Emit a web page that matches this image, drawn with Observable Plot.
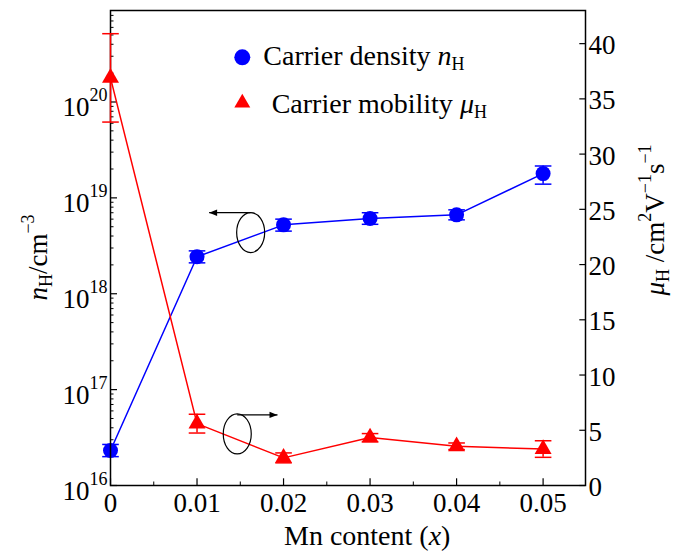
<!DOCTYPE html>
<html><head><meta charset="utf-8">
<script src="https://cdn.jsdelivr.net/npm/d3@7"></script>
<script src="https://cdn.jsdelivr.net/npm/@observablehq/plot@0.6"></script>
<style>
html,body{margin:0;padding:0;background:#fff;}
#chart{position:relative;width:678px;height:552px;}
#chart svg{position:absolute;left:0;top:0;}
</style></head><body><div id="chart"></div>
<script>
// ---- data ----
const mnContent = [0, 0.01, 0.02, 0.03, 0.04, 0.05];
const carrierDensity = [2.32e16, 2.43e18, 5.23e18, 6.09e18, 6.65e18, 1.79e19];
const densityLow  = [2.0e16, 2.1e18, 4.5e18, 5.3e18, 5.9e18, 1.39e19];
const densityHigh = [2.68e16, 2.8e18, 6.0e18, 7.0e18, 7.5e18, 2.15e19];
const carrierMobility = [36.9, 5.6, 2.5, 4.35, 3.55, 3.3];
const mobilityLow  = [32.9, 4.75, 2.05, 3.95, 3.25, 2.55];
const mobilityHigh = [40.9, 6.45, 2.95, 4.7, 3.85, 4.05];

const xTicks = [0, 0.01, 0.02, 0.03, 0.04, 0.05];
const xTickLabels = ["0", "0.01", "0.02", "0.03", "0.04", "0.05"];
const xMinorTicks = [0.005, 0.015, 0.025, 0.035, 0.045];
const densityTicks = [1e16, 1e17, 1e18, 1e19, 1e20];
const densityTickExponents = ["16", "17", "18", "19", "20"];
const mobilityTicks = [0, 5, 10, 15, 20, 25, 30, 35, 40];
const mobilityTickLabels = ["0", "5", "10", "15", "20", "25", "30", "35", "40"];

// annotation anchors (data units)
const densityNote = [{x: 0.0162, y: 4.35e18, arrowY: 7.0e18, arrowTo: 0.0114}];
const mobilityNote = [{x: 0.01465, y: 4.67, arrowY: 6.39, arrowTo: 0.0193}];

// ---- layout ----
const W = 678, H = 552, mt = 10, mb = 67, ml = 110, mr = 93;
const frameW = W - ml - mr, frameH = H - mt - mb;
const xDomain = [0, 0.0549];
const FONT = "'Liberation Serif', 'Times New Roman', serif";

const densityRows = mnContent.map((x, i) => ({x, y: carrierDensity[i], lo: densityLow[i], hi: densityHigh[i]}));
const mobilityRows = mnContent.map((x, i) => ({x, y: carrierMobility[i], lo: mobilityLow[i], hi: mobilityHigh[i]}));
const minorDensity = [];
for (let d = 16; d <= 20; d++) for (let k = 2; k <= 9; k++) { const v = k * Math.pow(10, d); if (v <= 9e20) minorDensity.push(v); }

// custom symbols
const hCap = {draw(ctx, size) { const r = Math.sqrt(size / Math.PI); ctx.moveTo(-r, 0); ctx.lineTo(r, 0); }};
const ellipseSym = {draw(ctx, size) {
  const r = Math.sqrt(size / Math.PI), rx = r * 0.7, ry = r, k = 0.5523;
  ctx.moveTo(rx, 0);
  ctx.bezierCurveTo(rx, k * ry, k * rx, ry, 0, ry);
  ctx.bezierCurveTo(-k * rx, ry, -rx, k * ry, -rx, 0);
  ctx.bezierCurveTo(-rx, -k * ry, -k * rx, -ry, 0, -ry);
  ctx.bezierCurveTo(k * rx, -ry, rx, -k * ry, rx, 0);
  ctx.closePath();
}};
const headLeft = {draw(ctx) { ctx.moveTo(0, 0); ctx.lineTo(8, -3.2); ctx.lineTo(8, 3.2); ctx.closePath(); }};
const headRight = {draw(ctx) { ctx.moveTo(0, 0); ctx.lineTo(-8, -3.2); ctx.lineTo(-8, 3.2); ctx.closePath(); }};

const common = {width: W, height: H, marginTop: mt, marginBottom: mb, marginLeft: ml, marginRight: mr,
  style: {fontFamily: FONT, background: "transparent", color: "black", overflow: "visible"}};

// ---- left (log) plot : carrier density ----
const plotA = Plot.plot({
  ...common,
  x: {domain: xDomain, axis: null},
  y: {type: "log", domain: [1e16, 9e20], axis: null},
  marks: [
    Plot.tickY(densityTicks, {y: d => d, insetRight: frameW - 7, stroke: "black", strokeWidth: 1.2}),
    Plot.tickY(minorDensity, {y: d => d, insetRight: frameW - 3.5, stroke: "black", strokeWidth: 1}),
    Plot.text(densityTicks, {y: d => d, frameAnchor: "left", text: () => "10", textAnchor: "end", lineAnchor: "bottom", dx: -21, dy: 14.5, fontSize: 27, fill: "black"}),
    Plot.text(densityTicks, {y: d => d, frameAnchor: "left", text: (d, i) => densityTickExponents[i], textAnchor: "end", lineAnchor: "bottom", dx: -3, dy: -0.5, fontSize: 18, fill: "black"}),
    Plot.line(densityRows, {x: "x", y: "y", stroke: "#0000ff", strokeWidth: 1.5}),
    Plot.ruleX(densityRows, {x: "x", y1: "lo", y2: "hi", stroke: "#0000ff", strokeWidth: 1.5}),
    Plot.dot(densityRows, {x: "x", y: "lo", symbol: hCap, r: 8.3, stroke: "#0000ff", fill: "none", strokeWidth: 1.5}),
    Plot.dot(densityRows, {x: "x", y: "hi", symbol: hCap, r: 8.3, stroke: "#0000ff", fill: "none", strokeWidth: 1.5}),
    Plot.dot(densityRows, {x: "x", y: "y", r: 7.5, fill: "#0000ff", stroke: "none"}),
    Plot.dot(densityNote, {x: "x", y: "y", symbol: ellipseSym, r: 20, stroke: "black", fill: "none", strokeWidth: 1.2}),
    Plot.link(densityNote, {x1: "x", x2: "arrowTo", y1: "arrowY", y2: "arrowY", stroke: "black", strokeWidth: 1.3}),
    Plot.dot(densityNote, {x: "arrowTo", y: "arrowY", symbol: headLeft, r: 4, fill: "black", stroke: "none"})
  ]
});

// ---- right (linear) plot : carrier mobility ----
const plotB = Plot.plot({
  ...common,
  x: {domain: xDomain, axis: null},
  y: {domain: [0, 43], axis: null},
  marks: [
    Plot.frame({stroke: "black", strokeWidth: 1.5}),
    Plot.tickY(mobilityTicks, {y: d => d, insetLeft: frameW - 5.7, stroke: "black", strokeWidth: 1.2}),
    Plot.text(mobilityTicks, {y: d => d, frameAnchor: "right", text: (d, i) => mobilityTickLabels[i], textAnchor: "start", lineAnchor: "bottom", dx: 3, dy: 10.5, fontSize: 27, fill: "black"}),
    Plot.tickX(xTicks, {x: d => d, insetTop: frameH - 6.7, stroke: "black", strokeWidth: 1.2}),
    Plot.tickX(xMinorTicks, {x: d => d, insetTop: frameH - 3.5, stroke: "black", strokeWidth: 1}),
    Plot.text(xTicks, {x: d => d, frameAnchor: "bottom", text: (d, i) => xTickLabels[i], lineAnchor: "bottom", dy: 26.7, fontSize: 27, fill: "black"}),
    Plot.line(mobilityRows, {x: "x", y: "y", stroke: "#ff0000", strokeWidth: 1.5}),
    Plot.ruleX(mobilityRows, {x: "x", y1: "lo", y2: "hi", stroke: "#ff0000", strokeWidth: 1.5}),
    Plot.dot(mobilityRows, {x: "x", y: "lo", symbol: hCap, r: 8.3, stroke: "#ff0000", fill: "none", strokeWidth: 1.5}),
    Plot.dot(mobilityRows, {x: "x", y: "hi", symbol: hCap, r: 8.3, stroke: "#ff0000", fill: "none", strokeWidth: 1.5}),
    Plot.dot(mobilityRows, {x: "x", y: "y", symbol: "triangle", r: 6.3, fill: "#ff0000", stroke: "none"}),
    Plot.dot(mobilityNote, {x: "x", y: "y", symbol: ellipseSym, r: 20, stroke: "black", fill: "none", strokeWidth: 1.2}),
    Plot.link(mobilityNote, {x1: "x", x2: "arrowTo", y1: "arrowY", y2: "arrowY", stroke: "black", strokeWidth: 1.3}),
    Plot.dot(mobilityNote, {x: "arrowTo", y: "arrowY", symbol: headRight, r: 4, fill: "black", stroke: "none"})
  ]
});

const chart = document.getElementById("chart");
chart.appendChild(plotA);
chart.appendChild(plotB);

// ---- titles and legend (text with italics / sub / superscripts) ----
const svg = d3.select(plotB);
const g = svg.append("g").attr("font-family", FONT).attr("fill", "black").attr("text-anchor", "start").style("white-space", "pre");

// x title
const xt = g.append("text").attr("x", 284).attr("y", 545).attr("font-size", 28).attr("text-anchor", "start");
xt.append("tspan").text("Mn content (");
xt.append("tspan").attr("font-style", "italic").text("x");
xt.append("tspan").text(")");

// left title
const lt = g.append("text").attr("transform", "translate(46.7,257.5) rotate(-90)").attr("text-anchor", "middle").attr("font-size", 27);
lt.append("tspan").attr("font-style", "italic").text("n");
lt.append("tspan").attr("font-size", 18).attr("dy", 5).text("H");
lt.append("tspan").attr("dy", -5).text("/cm");
lt.append("tspan").attr("font-size", 18).attr("dy", -13).text("\u22123");

// right title
const rt = g.append("text").attr("transform", "translate(664,220) rotate(-90)").attr("text-anchor", "middle").attr("font-size", 27);
rt.append("tspan").attr("font-style", "italic").text("\u03bc");
rt.append("tspan").attr("font-size", 18).attr("dy", 5).text("H");
rt.append("tspan").attr("dy", -5).text(" /cm");
rt.append("tspan").attr("font-size", 18).attr("dy", -13).text("2");
rt.append("tspan").attr("dy", 13).text("V");
rt.append("tspan").attr("font-size", 18).attr("dy", -13).text("\u22121");
rt.append("tspan").attr("dy", 13).text("s");
rt.append("tspan").attr("font-size", 18).attr("dy", -13).text("\u22121");

// legend
g.append("circle").attr("cx", 242.3).attr("cy", 57.3).attr("r", 8).attr("fill", "#0000ff");
g.append("path").attr("transform", "translate(242.3,103)").attr("d", d3.symbol(d3.symbolTriangle, 110)()).attr("fill", "#ff0000");
const l1 = g.append("text").attr("x", 263.3).attr("y", 65).attr("font-size", 28).attr("text-anchor", "start");
l1.append("tspan").text("Carrier density ");
l1.append("tspan").attr("font-style", "italic").text("n");
l1.append("tspan").attr("font-size", 18).attr("dy", 5).text("H");
const l2 = g.append("text").attr("x", 271.7).attr("y", 113).attr("font-size", 28).attr("text-anchor", "start");
l2.append("tspan").text("Carrier mobility ");
l2.append("tspan").attr("font-style", "italic").text("\u03bc");
l2.append("tspan").attr("font-size", 18).attr("dy", 5).text("H");
</script></body></html>
